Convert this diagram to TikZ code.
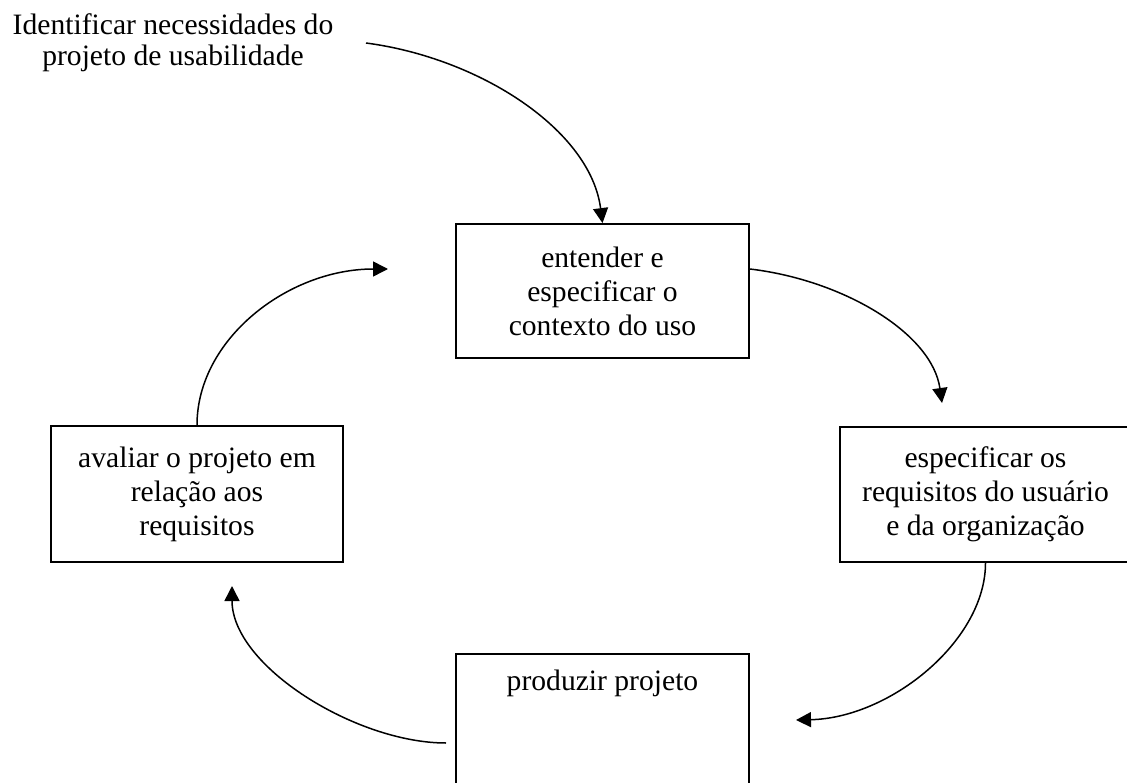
\documentclass[tikz,border=0pt]{standalone}
\usepackage{fontspec}
\setmainfont{Liberation Serif}
\usetikzlibrary{arrows.meta}
\begin{document}
\begin{tikzpicture}[x=1pt,y=-1pt,
  every node/.style={font=\fontsize{29.6}{34}\selectfont},
  stagebox/.style={draw, line width=1.8pt, rectangle, align=center, inner sep=0pt},
  flow/.style={line width=1.5pt, -{Triangle[length=15pt,width=15pt]}}]
  \useasboundingbox (0,0) rectangle (1127,783);
  \clip (0,0) rectangle (1127,783);

  % starting note
  \node[align=center, inner sep=0pt, font=\fontsize{29.6}{31}\selectfont] (need) at (173,43)
    {Identificar necessidades do\\projeto de usabilidade};

  % the four stages of the cycle
  \node[stagebox, minimum width=293pt, minimum height=134pt] (ctx) at (602.5,291)
    {entender e\\especificar o\\contexto do uso};
  \node[stagebox, minimum width=291pt, minimum height=135pt] (req) at (985.5,494.5)
    {especificar os\\requisitos do usuário\\e da organização};
  \node[stagebox, minimum width=293pt, anchor=north, inner ysep=17pt,
        text height=20pt, text depth=140pt] (prod) at (602.5,653)
    {produzir projeto};
  \node[stagebox, minimum width=292pt, minimum height=136pt] (eval) at (197,494)
    {avaliar o projeto em\\relação aos\\requisitos};

  % free ends of the connectors
  \coordinate (s1) at (366,43);
  \coordinate (e2) at (942,403);
  \coordinate (e3) at (796,720);
  \coordinate (s4) at (446,743);
  \coordinate (e4) at (232,586);
  \coordinate (e5) at (388,269);

  % connectors
  \draw[flow] (s1) .. controls +(114,15) and +(-12,-93) .. (ctx.north);
  \draw[flow] ([yshift=22pt]ctx.east) .. controls +(93,11) and +(-10,-70) .. (e2);
  \draw[flow] (req.south) .. controls +(0,78) and +(94,-2) .. (e3);
  \draw[flow] (s4) .. controls +(-90,0) and +(0,80) .. (e4);
  \draw[flow] (eval.north) .. controls +(0,-86) and +(-100,0) .. (e5);
\end{tikzpicture}
\end{document}
